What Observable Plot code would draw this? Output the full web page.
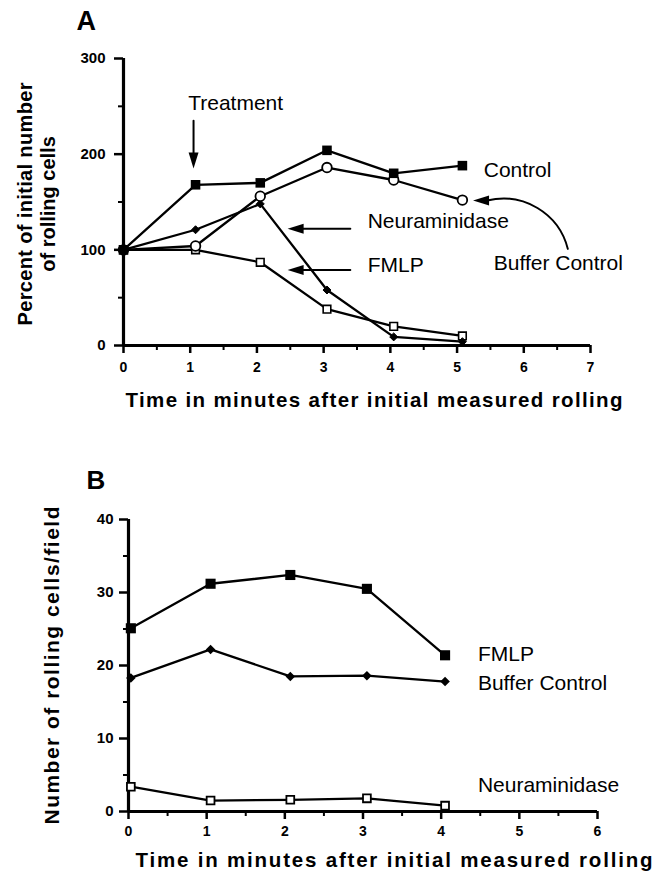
<!DOCTYPE html>
<html><head><meta charset="utf-8">
<script src="https://cdn.jsdelivr.net/npm/d3@7"></script>
<script src="https://cdn.jsdelivr.net/npm/@observablehq/plot@0.6"></script>
<style>
body{margin:0;background:#fff;}
#wrap{position:relative;width:662px;height:873px;background:#fff;overflow:hidden;}
#wrap svg{position:absolute;left:0;}
</style></head><body><div id="wrap"></div>
<script>
// ---------- Panel A data ----------
const timeA = [0, 1.08, 2.05, 3.05, 4.05, 5.08];
const controlA = [100, 168, 170, 204, 180, 188];
const bufferA = [100, 104, 156, 186, 173, 152];
const neuraA = [100, 121, 148, 58, 9, 4];
const fmlpA = [100, 100, 87, 38, 20, 10];
const ticksAx = [0, 1, 2, 3, 4, 5, 6, 7];
const ticksAy = [0, 100, 200, 300];

// ---------- Panel B data ----------
const timeB = [0.03, 1.05, 2.07, 3.05, 4.05];
const fmlpB = [25.1, 31.2, 32.4, 30.5, 21.4];
const bufferB = [18.3, 22.2, 18.5, 18.6, 17.8];
const neuraB = [3.4, 1.5, 1.6, 1.8, 0.8];
const ticksBx = [0, 1, 2, 3, 4, 5, 6];
const ticksBy = [0, 10, 20, 30, 40];

const xTitle = "Time in minutes after initial measured rolling";
const yTitleA = "Percent of initial number\nof rolling cells";
const yTitleB = "Number of rolling cells/field";

// annotations (data coordinates)
const labelsA = [
  {text: "Treatment", x: 0.97, y: 253},
  {text: "Control", x: 5.4, y: 183},
  {text: "Neuraminidase", x: 3.66, y: 130},
  {text: "FMLP", x: 3.66, y: 84},
  {text: "Buffer Control", x: 5.55, y: 86}
];
const straightArrowsA = [
  {x1: 1.05, y1: 235, x2: 1.05, y2: 195},
  {x1: 3.4, y1: 122, x2: 2.6, y2: 122},
  {x1: 3.4, y1: 79, x2: 2.6, y2: 79}
];
const headsA = [
  {x: 1.05, y: 185, angle: 180},
  {x: 2.46, y: 122, angle: -90},
  {x: 2.46, y: 79, angle: -90},
  {x: 5.24, y: 151.5, angle: -90}
];
const curvedArrowA = [{x1: 6.66, y1: 101, x2: 5.45, y2: 151.5}];
const labelsB = [
  {text: "FMLP", x: 4.47, y: 21.6},
  {text: "Buffer Control", x: 4.47, y: 17.5},
  {text: "Neuraminidase", x: 4.47, y: 3.6}
];

const rows = (t, v) => t.map((x, i) => ({x, y: v[i]}));
const FONT = "'Liberation Sans', Arial, Helvetica, sans-serif";
const headSymbol = {
  draw(ctx, size) {
    const r = Math.sqrt(size / Math.PI);
    ctx.moveTo(0, 0);
    ctx.lineTo(-0.62 * r, 2 * r);
    ctx.lineTo(0.62 * r, 2 * r);
    ctx.closePath();
  }
};

function axes(tx, ty, minorX, minorY, xmax, ymax, padX, padY) {
  return [
    Plot.axisY(ty, {tickSize: 9, tickPadding: padY, fontWeight: "bold", fontSize: 15, strokeWidth: 2.5, label: null}),
    Plot.axisY(minorY, {tickSize: 5, tickFormat: () => "", strokeWidth: 2, label: null}),
    Plot.axisX(tx, {tickSize: 8, tickPadding: padX, fontWeight: "bold", fontSize: 14, strokeWidth: 2.5, label: null}),
    Plot.axisX(minorX, {tickSize: 5, tickFormat: () => "", strokeWidth: 2, label: null}),
    Plot.ruleX([0], {y1: 0, y2: ymax, strokeWidth: 3.2}),
    Plot.ruleY([0], {x1: 0, x2: xmax, strokeWidth: 3.2})
  ];
}

const style = {fontFamily: FONT, fontSize: "13px", color: "black", background: "white", overflow: "visible"};

const plotA = Plot.plot({
  width: 662, height: 420,
  marginTop: 58, marginBottom: 75, marginLeft: 123, marginRight: 72,
  x: {domain: [0, 7]}, y: {domain: [0, 300]},
  style,
  marks: [
    ...axes(ticksAx, ticksAy, d3.range(0.5, 7, 1), d3.range(50, 300, 100), 7, 300, 9, 9),
    Plot.line(rows(timeA, fmlpA), {x: "x", y: "y", stroke: "black", strokeWidth: 2.3}),
    Plot.line(rows(timeA, neuraA), {x: "x", y: "y", stroke: "black", strokeWidth: 2.3}),
    Plot.line(rows(timeA, bufferA), {x: "x", y: "y", stroke: "black", strokeWidth: 2.3}),
    Plot.line(rows(timeA, controlA), {x: "x", y: "y", stroke: "black", strokeWidth: 2.3}),
    Plot.dot(rows(timeA, fmlpA), {x: "x", y: "y", symbol: "square", r: 4.3, fill: "white", stroke: "black", strokeWidth: 1.6}),
    Plot.dot(rows(timeA, neuraA), {x: "x", y: "y", symbol: "diamond2", r: 3.6, fill: "black", stroke: "black", strokeWidth: 1}),
    Plot.dot(rows(timeA, bufferA), {x: "x", y: "y", symbol: "circle", r: 4.8, fill: "white", stroke: "black", strokeWidth: 1.8}),
    Plot.dot(rows(timeA, controlA), {x: "x", y: "y", symbol: "square", r: 5.4, fill: "black"}),
    Plot.arrow(straightArrowsA, {x1: "x1", y1: "y1", x2: "x2", y2: "y2", headLength: 0, strokeWidth: 2}),
    Plot.arrow(curvedArrowA, {x1: "x1", y1: "y1", x2: "x2", y2: "y2", bend: -45, headLength: 0, strokeWidth: 2}),
    Plot.dot(headsA, {x: "x", y: "y", rotate: "angle", symbol: headSymbol, r: 8, fill: "black", stroke: null}),
    Plot.text(labelsA, {x: "x", y: "y", text: "text", textAnchor: "start", lineAnchor: "middle", fontSize: 21, fill: "black"}),
    Plot.text(["A"], {text: d => d, frameAnchor: "top-left", textAnchor: "start", lineAnchor: "bottom", dx: -47, dy: -29, fontSize: 27, fontWeight: "bold"}),
    Plot.text([xTitle], {text: d => d, frameAnchor: "bottom-left", textAnchor: "start", lineAnchor: "middle", dx: 2, dy: 55, fontSize: 20.5, fontWeight: "bold"}),
    Plot.text([yTitleA], {text: d => d, frameAnchor: "left", rotate: -90, textAnchor: "middle", lineAnchor: "middle", lineHeight: 1.12, dx: -87, dy: 2, fontSize: 20, fontWeight: "bold"})
  ]
});
plotA.style.top = "0px";

const plotB = Plot.plot({
  width: 662, height: 433,
  marginTop: 79, marginBottom: 62, marginLeft: 128, marginRight: 65,
  x: {domain: [0, 6]}, y: {domain: [0, 40]},
  style,
  marks: [
    ...axes(ticksBx, ticksBy, d3.range(0.5, 6, 1), d3.range(5, 40, 10), 6, 40, 7, 6),
    Plot.line(rows(timeB, neuraB), {x: "x", y: "y", stroke: "black", strokeWidth: 2.3}),
    Plot.line(rows(timeB, bufferB), {x: "x", y: "y", stroke: "black", strokeWidth: 2.3}),
    Plot.line(rows(timeB, fmlpB), {x: "x", y: "y", stroke: "black", strokeWidth: 2.3}),
    Plot.dot(rows(timeB, neuraB), {x: "x", y: "y", symbol: "square", r: 4.4, fill: "white", stroke: "black", strokeWidth: 1.8}),
    Plot.dot(rows(timeB, bufferB), {x: "x", y: "y", symbol: "diamond2", r: 4.3, fill: "black"}),
    Plot.dot(rows(timeB, fmlpB), {x: "x", y: "y", symbol: "square", r: 5.7, fill: "black"}),
    Plot.text(labelsB, {x: "x", y: "y", text: "text", textAnchor: "start", lineAnchor: "middle", fontSize: 21, fill: "black"}),
    Plot.text(["B"], {text: d => d, frameAnchor: "top-left", textAnchor: "start", lineAnchor: "bottom", dx: -42, dy: -31, fontSize: 26, fontWeight: "bold"}),
    Plot.text([xTitle], {text: d => d, frameAnchor: "bottom-left", textAnchor: "start", lineAnchor: "middle", dx: 7, dy: 49, fontSize: 20.5, fontWeight: "bold"}),
    Plot.text([yTitleB], {text: d => d, frameAnchor: "left", rotate: -90, textAnchor: "middle", lineAnchor: "middle", dx: -76, dy: 0, fontSize: 21, fontWeight: "bold"})
  ]
});
plotB.style.top = "440px";

// stretch titles to the reference widths
function stretch(svg, content, length) {
  d3.select(svg).selectAll("text, tspan").each(function () {
    if (this.childElementCount === 0 && this.textContent === content) {
      this.setAttribute("textLength", length);
      this.setAttribute("lengthAdjust", "spacing");
    }
  });
}
stretch(plotA, xTitle, 497);
stretch(plotB, xTitle, 517);
stretch(plotA, "Percent of initial number", 243);
stretch(plotB, yTitleB, 318);

const wrap = document.getElementById("wrap");
wrap.appendChild(plotA);
wrap.appendChild(plotB);
</script>
</body></html>
